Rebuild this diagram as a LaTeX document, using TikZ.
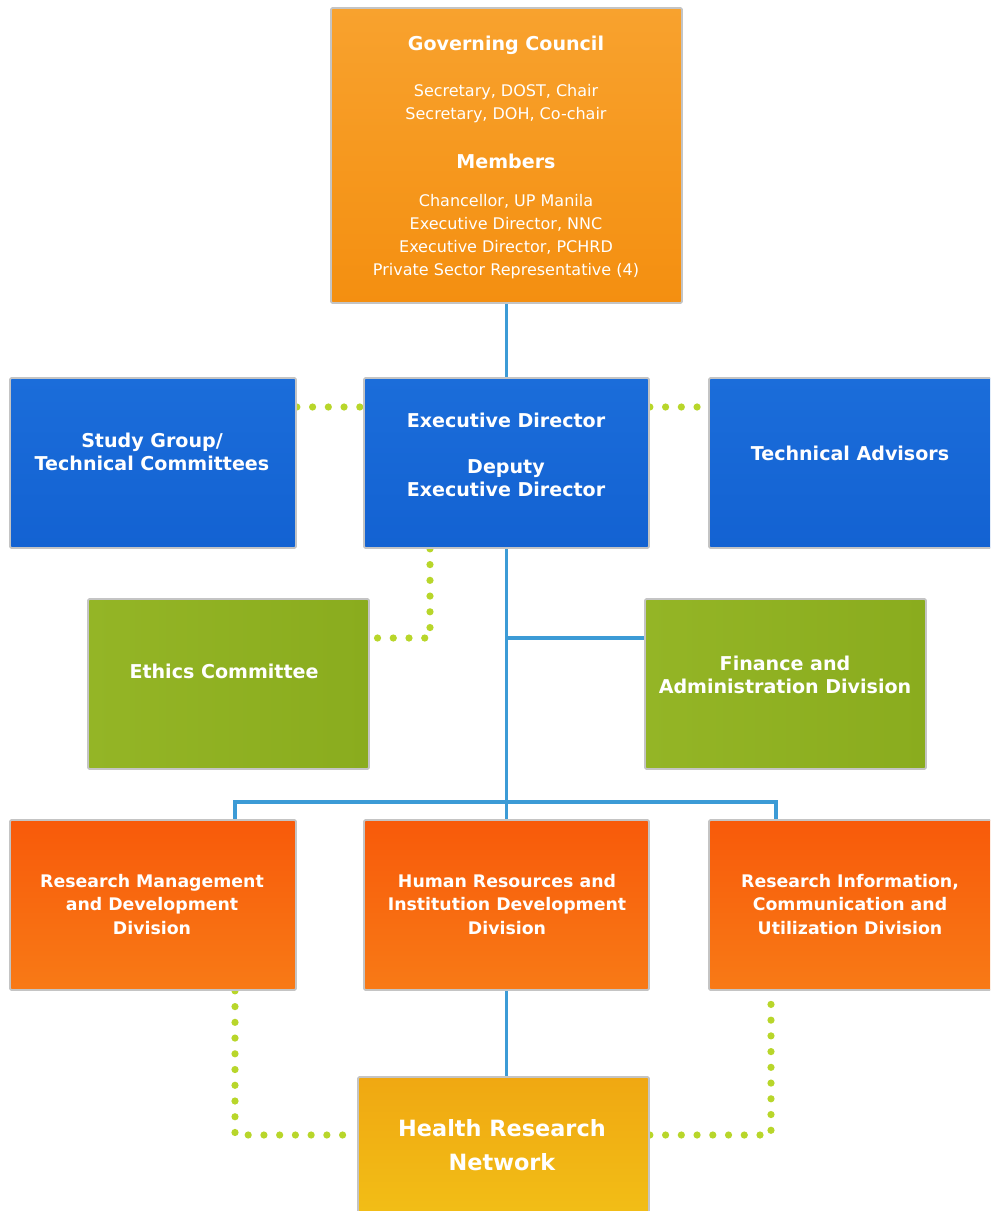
\documentclass[tikz,border=0pt]{standalone}
\usepackage{fontspec}
\setmainfont{DejaVu Sans}
\usetikzlibrary{fit,backgrounds}
\pgfdeclarelayer{bottom}
\pgfsetlayers{bottom,background,main}
\definecolor{gcA}{HTML}{F8A22E}
\definecolor{gcB}{HTML}{F48F10}
\definecolor{blA}{HTML}{1B6DDA}
\definecolor{blB}{HTML}{1362D2}
\definecolor{grA}{HTML}{94B526}
\definecolor{grB}{HTML}{8AAC1E}
\definecolor{rdA}{HTML}{F85A0A}
\definecolor{rdB}{HTML}{F87A16}
\definecolor{ylA}{HTML}{F0A812}
\definecolor{ylB}{HTML}{F2BE16}
\definecolor{connblue}{HTML}{3C9BD6}
\definecolor{dotgreen}{HTML}{B8D62A}
\definecolor{edge}{HTML}{C4C4C4}
\begin{document}
\begin{tikzpicture}[x=0.75pt,y=-0.75pt,
  box/.style={draw=edge, line width=1.3pt, inner sep=0pt, rounded corners=1pt},
  gcbox/.style={box, top color=gcA, bottom color=gcB},
  bluebox/.style={box, top color=blA, bottom color=blB},
  greenbox/.style={box, left color=grA, right color=grB},
  redbox/.style={box, top color=rdA, bottom color=rdB},
  yellowbox/.style={box, top color=ylA, bottom color=ylB},
  ttl/.style={text=white, font=\fontsize{14.3}{17.25}\selectfont\bfseries, align=center, inner sep=0pt},
  divt/.style={text=white, font=\fontsize{13}{17.6}\selectfont\bfseries, align=center, inner sep=0pt},
  reg/.style={text=white, font=\fontsize{12}{17.25}\selectfont, align=center, inner sep=0pt},
  bigt/.style={text=white, font=\fontsize{16.8}{25.5}\selectfont\bfseries, align=center, inner sep=0pt},
  conn/.style={draw=connblue, line width=2.3pt},
  dots/.style={draw=dotgreen, line width=5.4pt, line cap=round, dash pattern=on 0pt off 11.8pt}
]
\clip (0,0) rectangle (990,1211);
\begin{pgfonlayer}{bottom}
\fill[white] (0,0) rectangle (990,1211);
\end{pgfonlayer}

% boxes
\node[gcbox, fit={(331,8) (682,303)}] (gc) {};
\node[bluebox, fit={(10,378) (296,548)}] (sg) {};
\node[bluebox, fit={(364,378) (649,548)}] (ed) {};
\node[bluebox, fit={(709,378) (994,548)}] (ta) {};
\node[greenbox, fit={(88,599) (369,769)}] (eth) {};
\node[greenbox, fit={(645,599) (926,769)}] (fin) {};
\node[redbox, fit={(10,820) (296,990)}] (rmd) {};
\node[redbox, fit={(364,820) (649,990)}] (hr) {};
\node[redbox, fit={(709,820) (994,990)}] (ricu) {};
\node[yellowbox, fit={(358,1077) (649,1216)}] (hrn) {};

% texts
\node[ttl] (gct) at (506,45) {Governing Council};
\node[reg] (gcr) at (506,104) {Secretary, DOST, Chair\\Secretary, DOH, Co-chair};
\node[ttl] (gcm) at (506,161) {Members};
\node[reg] (gcl) at (506,236.5) {Chancellor, UP Manila\\Executive Director, NNC\\Executive Director, PCHRD\\Private Sector Representative (4)};
\node[ttl] (sgt) at (152,451.5) {Study Group/\\Technical Committees};
\node[ttl] (edt) at (506,455) {Executive Director\\[17.25pt]Deputy\\Executive Director};
\node[ttl] (tat) at (850,453) {Technical Advisors};
\node[ttl] (etht) at (224,671) {Ethics Committee};
\node[ttl] (fint) at (785,674.5) {Finance and\\Administration Division};
\node[divt] (rmdt) at (152,904.5) {Research Management\\and Development\\Division};
\node[divt] (hrt) at (507,904.5) {Human Resources and\\Institution Development\\Division};
\node[divt] (ricut) at (850,904.5) {Research Information,\\Communication and\\Utilization Division};
\node[bigt] (hrnt) at (502,1145) {Health Research\\Network};

% connector coordinates
\coordinate (bl) at (235,802);
\coordinate (br) at (776,802);
\coordinate (fy) at (0,638);
\coordinate (ey) at (430,638);
\coordinate (ty) at (0,407);
\coordinate (dl) at (235,1135);
\coordinate (dr) at (771,1135);

\begin{scope}[on background layer]
\draw[conn] (gc.south) -- (ed.north);
\draw[conn] (ed.south) -- (hr.north);
\draw[conn] (ed.south |- fy) -- (fin.west |- fy);
\draw[conn] (rmd.north -| bl) -- (bl) -- (br) -- (ricu.north -| br);
\draw[conn] (hr.south) -- (hr.south |- hrn.north);
\draw[dots] (sg.east |- ty) -- (ed.west |- ty);
\draw[dots] (ed.east |- ty) -- (ta.west |- ty);
\draw[dots] (ed.south -| ey) -- (ey) -- (eth.east |- ey);
\draw[dots] (rmd.south -| dl) -- (dl) -- (hrn.west |- dl);
\draw[dots] (hrn.east |- dr) -- (dr) -- (ricu.south -| dr);
\end{scope}
\end{tikzpicture}
\end{document}
